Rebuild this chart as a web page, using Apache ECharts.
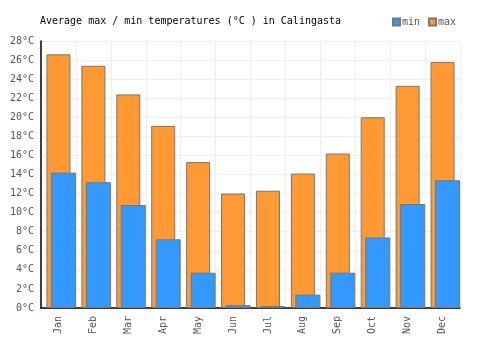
<!DOCTYPE html>
<html>
<head>
<meta charset="utf-8">
<script src="https://cdn.jsdelivr.net/npm/echarts@6/dist/echarts.min.js"></script>
<style>
	html, body { margin: 0; padding: 0; background: #fff; }
	#chart { width: 500px; height: 350px; }
</style>
</head>
<body>
<div id="chart"></div>
<script>
// data
const months = ['Jan', 'Feb', 'Mar', 'Apr', 'May', 'Jun', 'Jul', 'Aug', 'Sep', 'Oct', 'Nov', 'Dec'];
const maxTemps = [26.6, 25.4, 22.4, 19.1, 15.3, 12.0, 12.3, 14.1, 16.2, 20.0, 23.3, 25.8];
const minTemps = [14.2, 13.2, 10.8, 7.2, 3.7, 0.3, 0.2, 1.4, 3.7, 7.4, 10.9, 13.4];

const font = 'DejaVu Sans Mono';
const chart = echarts.init(document.getElementById('chart'), null, { renderer: 'canvas' });

const yAxisBase = { type: 'value', min: 0, max: 28, interval: 2 };

chart.setOption({
	animation: false,
	title: {
		text: 'Average max / min temperatures (°C ) in Calingasta',
		left: 35,
		top: 11,
		textStyle: { fontFamily: font, fontSize: 10, fontWeight: 'normal', color: '#000' },
	},
	legend: {
		left: 387,
		top: 12,
		itemWidth: 7,
		itemHeight: 7,
		itemGap: 8,
		icon: 'rect',
		data: ['min', 'max'],
		textStyle: { fontFamily: font, fontSize: 10, color: '#555', padding: [0, 0, 0, -3] },
	},
	grid: [
		{ left: 41, right: 40, top: 41, bottom: 42 },
		{ left: 46, right: 35, top: 41, bottom: 42 }, // min bars sit a bit to the right
	],
	xAxis: [
		{
			type: 'category',
			gridIndex: 0,
			data: months,
			axisLine: { lineStyle: { color: '#000', width: 1.5 } },
			axisTick: { show: false },
			axisLabel: { rotate: 90, fontFamily: font, fontSize: 10, color: '#555', margin: 8 },
			splitLine: { show: true, lineStyle: { color: '#eee' } },
		},
		{ type: 'category', gridIndex: 1, data: months, show: false },
	],
	yAxis: [
		{
			...yAxisBase,
			gridIndex: 0,
			axisLine: { show: true, lineStyle: { color: '#000', width: 1.5 } },
			axisTick: { show: false },
			axisLabel: { formatter: '{value}°C', fontFamily: font, fontSize: 10, color: '#555', margin: 7 },
			splitLine: { lineStyle: { color: '#eee' } },
		},
		{ ...yAxisBase, gridIndex: 1, show: false },
	],
	series: [
		{
			name: 'max',
			type: 'bar',
			xAxisIndex: 0,
			yAxisIndex: 0,
			barWidth: 24,
			itemStyle: { color: '#ff9933', borderColor: '#777', borderWidth: 1 },
			data: maxTemps,
		},
		{
			name: 'min',
			type: 'bar',
			xAxisIndex: 1,
			yAxisIndex: 1,
			barWidth: 25,
			itemStyle: { color: '#3399ff', borderColor: '#777', borderWidth: 1 },
			data: minTemps,
		},
	],
});
</script>
</body>
</html>
